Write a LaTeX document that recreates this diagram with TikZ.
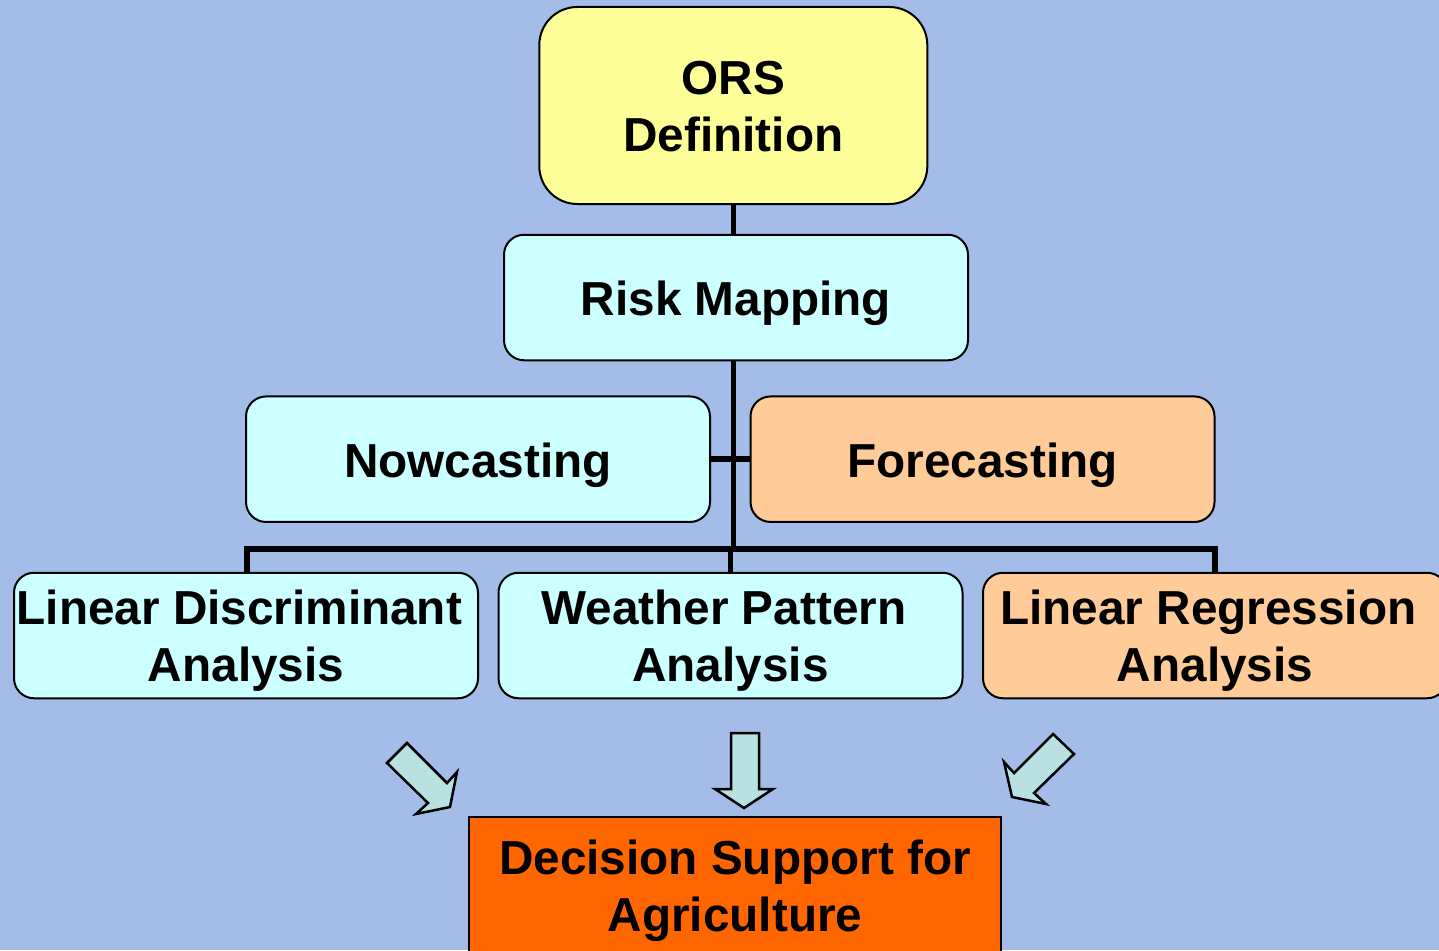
\documentclass[tikz,border=0pt]{standalone}
\usepackage{fontspec}
\setmainfont{Liberation Sans}
\usetikzlibrary{calc}
\definecolor{bgblue}{HTML}{A4BCE8}
\definecolor{cyanbox}{HTML}{CCFFFF}
\definecolor{yellowbox}{HTML}{FFFF99}
\definecolor{peachbox}{HTML}{FFCC99}
\definecolor{orangebox}{HTML}{FF6600}
\definecolor{arrowfill}{HTML}{B9E1E1}
\begin{document}
\begin{tikzpicture}[x=1pt,y=-1pt,
  box/.style={draw=black, line width=2pt, rounded corners=20pt, minimum width=464pt, minimum height=125.5pt, inner sep=0pt},
  lbl/.style={font=\fontsize{47.7}{57}\selectfont\bfseries, align=center, anchor=base, inner sep=0pt},
  conn/.style={line width=5.5pt, black},
  blockarrow/.style={draw=black, line width=2.5pt, fill=arrowfill, line join=miter}]
\clip (0,0) rectangle (1439,950);
\fill[bgblue] (0,0) rectangle (1439,950);
% boxes
\node[box, fill=yellowbox, rounded corners=38pt, minimum width=388pt, minimum height=197pt] (ors) at (733.3,105.5) {};
\node[box, fill=cyanbox] (risk) at (736,297.5) {};
\node[box, fill=cyanbox] (now) at (478,459.2) {};
\node[box, fill=peachbox] (fore) at (982.5,459.2) {};
\node[box, fill=cyanbox] (lda) at (246,635.5) {};
\node[box, fill=cyanbox] (wpa) at (730.5,635.5) {};
\node[box, fill=peachbox] (lra) at (1215,635.5) {};
\node[draw=black, line width=2.5pt, fill=orangebox, minimum width=532pt, minimum height=200pt, inner sep=0pt] (dss) at (735,917) {};
% connectors
\coordinate (barL) at (247,549);
\coordinate (barR) at (1215,549);
\draw[conn] (ors.south) -- (ors.south |- risk.north);
\draw[conn] (ors.south |- risk.south) -- (ors.south |- barL);
\draw[conn] (now.east) -- (fore.west);
\draw[conn] (lda.north -| barL) -- (barL) -- (barR) -- (lra.north -| barR);
\draw[line width=4.5pt] (wpa.north) -- (wpa.north |- barL);
% labels (base anchor = baseline of last line)
\node[lbl] (orsT) at (733.3,151.5) {ORS\\Definition};
\node[lbl] (riskT) at (736,315) {Risk Mapping};
\node[lbl] (nowT) at (478,477.3) {Nowcasting};
\node[lbl] (foreT) at (982.5,477.3) {Forecasting};
\node[lbl] (ldaT) at (246,681.7) {Linear Discriminant\hspace*{0.278em}\\Analysis};
\node[lbl] (wpaT) at (730.5,681.7) {Weather Pattern\hspace*{0.278em}\\Analysis};
\node[lbl] (lraT) at (1215,681.7) {Linear Regression\hspace*{0.278em}\\Analysis};
\node[lbl] (dssT) at (735,931.7) {Decision Support for\\Agriculture};
% block arrows
\draw[blockarrow] (387,763) -- (407,743) -- (447,783) -- (457,772) -- (450,807) -- (416,814) -- (428,803) -- cycle;
\draw[blockarrow] (731,733) -- (759,733) -- (759,789) -- (773,789) -- (744,808) -- (715,789) -- (731,789) -- cycle;
\draw[blockarrow] (1074,754) -- (1053,734) -- (1014,773) -- (1004,762) -- (1012,797) -- (1046,804) -- (1034,793) -- cycle;
\end{tikzpicture}
\end{document}
